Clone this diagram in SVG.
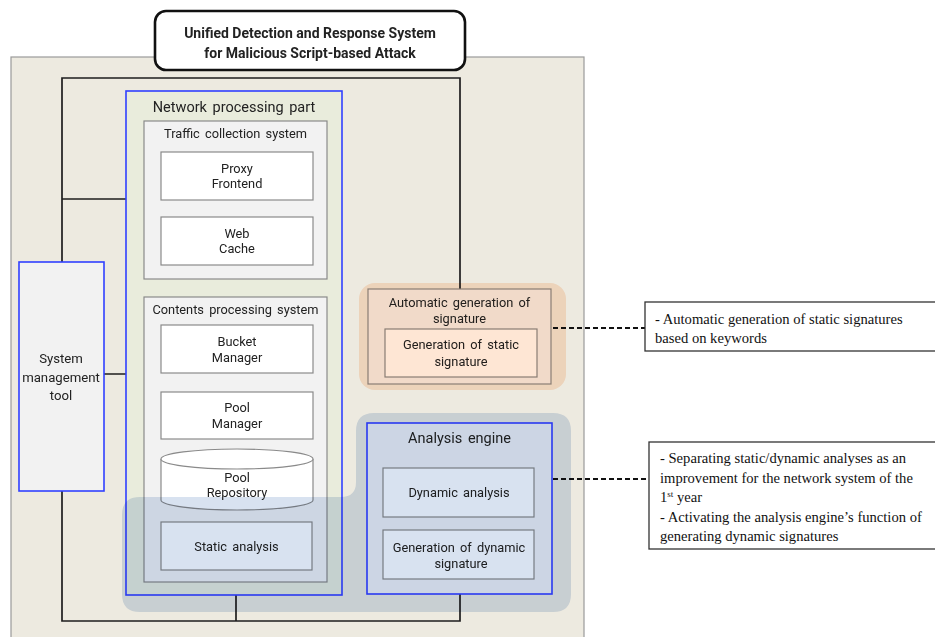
<svg xmlns="http://www.w3.org/2000/svg" width="935" height="637" viewBox="0 0 935 637">
<style>
text{font-family:Roboto,"Liberation Sans",sans-serif;fill:#222;text-anchor:middle;word-spacing:2px}
.t14{font-size:14.5px}
.tsys{font-size:13.2px;word-spacing:0}
.t13{font-size:12.8px}
.title{font-size:14px;font-weight:bold;word-spacing:0}
.serif{font-family:"Liberation Serif","Times New Roman",serif;font-size:14.6px;text-anchor:start;word-spacing:0;fill:#111}
.gray{fill:#f2f2f2;stroke:#8a8a8a;stroke-width:1.2}
.white{fill:#fff;stroke:#8a8a8a;stroke-width:1.2}
.blue{stroke:#3040ff;stroke-width:1.6}
.conn{fill:none;stroke:#1e1e1e;stroke-width:1.7}
.dash{fill:none;stroke:#111;stroke-width:1.8;stroke-dasharray:5 3}
.note{fill:#fff;stroke:#333;stroke-width:1.3}
.hl{mix-blend-mode:multiply}
</style>
<rect id="background" x="11" y="57" width="573" height="590" fill="#edeae0" stroke="#9a9a9a" stroke-width="1.2"/>
<g id="connectors">
<path class="conn" d="M62,262 V78 H460 V289"/>
<path class="conn" d="M62,199 H144"/>
<path class="conn" d="M236,279 V297"/>
<path class="conn" d="M104,374 H144"/>
<path class="conn" d="M62,491 V621 H460 V594"/>
<path class="conn" d="M236,595 V621"/>
<path class="dash" d="M553,328 H645"/>
<path class="dash" d="M553,479 H649"/>
</g>
<g id="title">
<rect x="155" y="11" width="310" height="59" rx="11" fill="#fff" stroke="#111" stroke-width="2.6"/>
<text class="title" x="310" y="38">Unified Detection and Response System</text>
<text class="title" x="310" y="58">for Malicious Script-based Attack</text>
</g>
<g id="system-management-tool">
<rect class="gray blue" x="19" y="262" width="85" height="229" fill="#f2f2f2"/>
<text class="tsys" x="61" y="363">System</text>
<text class="tsys" x="61" y="382">management</text>
<text class="tsys" x="61" y="400">tool</text>
</g>
<g id="network-processing-part">
<rect x="126" y="91" width="216" height="504" fill="#e9ecdc" class="blue"/>
<text class="t14" x="234" y="112">Network processing part</text>
</g>
<g id="traffic-collection-system">
<rect class="gray" x="144" y="121" width="183" height="158"/>
<text class="t13" x="235.5" y="137.5">Traffic collection system</text>
</g>
<g id="proxy-frontend">
<rect class="white" x="161" y="152" width="152" height="48"/>
<text class="t13" x="237" y="172.5">Proxy</text>
<text class="t13" x="237" y="187.5">Frontend</text>
</g>
<g id="web-cache">
<rect class="white" x="161" y="217" width="152" height="48"/>
<text class="t13" x="237" y="237.5">Web</text>
<text class="t13" x="237" y="252.5">Cache</text>
</g>
<g id="contents-processing-system">
<rect class="gray" x="144" y="297" width="183" height="285"/>
<text class="t13" x="235.5" y="313.5">Contents processing system</text>
</g>
<g id="bucket-manager">
<rect class="white" x="161" y="325" width="152" height="48"/>
<text class="t13" x="237" y="345.5">Bucket</text>
<text class="t13" x="237" y="361.5">Manager</text>
</g>
<g id="pool-manager">
<rect class="white" x="161" y="392" width="152" height="47"/>
<text class="t13" x="237" y="411.5">Pool</text>
<text class="t13" x="237" y="427.5">Manager</text>
</g>
<g id="pool-repository">
<path class="white" d="M161,459 V500 A76,10 0 0 0 313,500 V459"/>
<ellipse class="white" cx="237" cy="459" rx="76" ry="10"/>
<text class="t13" x="237" y="481.5">Pool</text>
<text class="t13" x="237" y="496.5">Repository</text>
</g>
<g id="static-analysis">
<rect class="white" x="161" y="522" width="151" height="48"/>
<text class="t13" x="236.5" y="550.5">Static analysis</text>
</g>
<g id="automatic-generation-of-signature">
<rect class="gray" x="368" y="289" width="183" height="95"/>
<text class="t13" x="459.5" y="306.5">Automatic generation of</text>
<text class="t13" x="459.5" y="322.5">signature</text>
</g>
<g id="generation-of-static-signature">
<rect class="white" x="385" y="329" width="152" height="48"/>
<text class="t13" x="461" y="348.5">Generation of static</text>
<text class="t13" x="461" y="365.5">signature</text>
</g>
<g id="analysis-engine">
<rect class="blue" x="367" y="423" width="185" height="171" fill="#f1f1f3"/>
<text class="t14" x="459.5" y="443">Analysis engine</text>
</g>
<g id="dynamic-analysis">
<rect class="white" x="383" y="468" width="151" height="49"/>
<text class="t13" x="459" y="496.5">Dynamic analysis</text>
</g>
<g id="generation-of-dynamic-signature">
<rect class="white" x="383" y="530" width="151" height="49"/>
<text class="t13" x="459" y="551.5">Generation of dynamic</text>
<text class="t13" x="461" y="567.5">signature</text>
</g>
<g id="highlights">
<rect class="hl" x="359" y="283" width="207" height="107" rx="16" fill="#fee6d4"/>
<path class="hl" fill="#d8e2f0" d="M140,497 L341,497 Q356,497 356,482 L356,431 Q356,413 374,413 L553,413 Q571,413 571,431 L571,594 Q571,612 553,612 L140,612 Q122,612 122,594 L122,515 Q122,497 140,497 Z"/>
</g>
<g id="note-static-signatures">
<rect class="note" x="645" y="302" width="295" height="49"/>
<text class="serif" x="655" y="324">- Automatic generation of static signatures</text>
<text class="serif" x="655" y="343">based on keywords</text>
</g>
<g id="note-analysis-engine">
<rect class="note" x="649" y="442" width="295" height="107"/>
<text class="serif" x="660" y="463">- Separating static/dynamic analyses as an</text>
<text class="serif" x="660" y="483">improvement for the network system of the</text>
<text class="serif" x="660" y="502">1<tspan font-size="9" dy="-5">st</tspan><tspan dy="5"> year</tspan></text>
<text class="serif" x="660" y="522">- Activating the analysis engine’s function of</text>
<text class="serif" x="660" y="541">generating dynamic signatures</text>
</g>
</svg>
